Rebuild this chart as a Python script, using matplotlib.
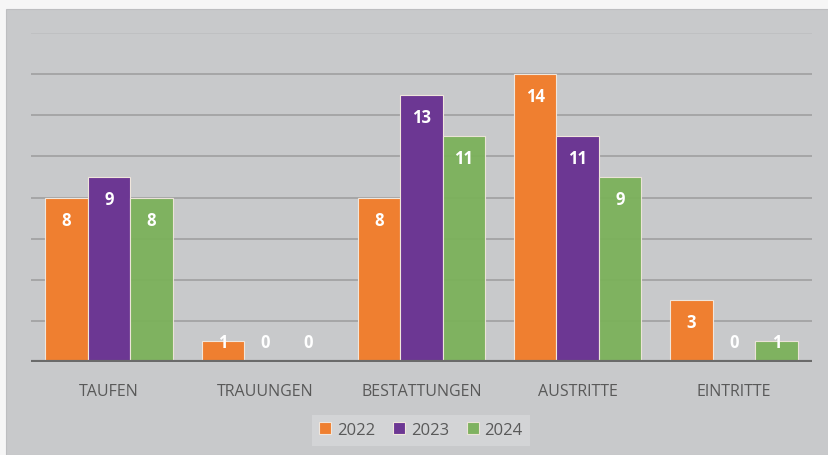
import numpy as np
import matplotlib.pyplot as plt
from matplotlib.patches import Rectangle

categories = ["TAUFEN", "TRAUUNGEN", "BESTATTUNGEN", "AUSTRITTE", "EINTRITTE"]
years = ["2022", "2023", "2024"]
values_2022 = [8, 1, 8, 14, 3]
values_2023 = [9, 0, 13, 11, 0]
values_2024 = [8, 0, 11, 9, 1]
series = [values_2022, values_2023, values_2024]
colors = ["#ef7f30", "#6c3793", "#7bb15a"]

plt.rcParams["font.family"] = ["Open Sans", "DejaVu Sans"]

fig = plt.figure(figsize=(8.29, 4.56), dpi=100)
fig.patch.set_facecolor("#f6f6f6")
# gray panel behind the chart
fig.patches.append(Rectangle((6 / 829, 0), 1, (456 - 10) / 456,
                             transform=fig.transFigure, facecolor="#c8c9cb",
                             edgecolor="#bdbec0", linewidth=0.8, zorder=-5))

ax = fig.add_axes([31 / 829, 1 - 363 / 456, (812 - 31) / 829, (363 - 34) / 456])
ax.set_facecolor("none")
ax.set_xlim(-0.5, len(categories) - 0.5)
ax.set_ylim(0, 16)

# gridlines, top one faint
grid_levels = np.arange(2, 17, 2)
for lvl in grid_levels:
    a = 0.15 if lvl == 16 else 0.6
    ax.axhline(lvl, color="#8a8a8a", alpha=a, linewidth=1.3, zorder=1)
ax.axhline(0, color="#6a6a6a", linewidth=3, zorder=4)

x = np.arange(len(categories))
width = 0.272
for i, (vals, col) in enumerate(zip(series, colors)):
    pos = x + (i - 1) * width
    alpha = 0.95 if i == 2 else 1.0
    ax.bar(pos, vals, width=width, color=col, alpha=alpha,
           edgecolor="#f0e6dc", linewidth=0.8, zorder=2, label=years[i])
    for p, v in zip(pos, vals):
        y = max(v - 1.07, 0.95)
        ax.text(p, y, str(v), ha="center", va="center", color="white",
                fontsize=12, fontweight="bold", zorder=5)

for s in ax.spines.values():
    s.set_visible(False)
ax.set_yticks([])
ax.set_xticks(x)
ax.set_xticklabels(categories, fontsize=11.5, color="#595959")
ax.tick_params(axis="x", length=0, pad=15)

leg = fig.legend(loc="center", bbox_to_anchor=(421 / 829, 1 - 431 / 456),
                 ncol=3, frameon=True, fontsize=12, handlelength=0.7,
                 handleheight=0.7, handletextpad=0.35, columnspacing=1.1,
                 borderpad=0.45, fancybox=False)
leg.get_frame().set_facecolor("#d6d7d9")
leg.get_frame().set_edgecolor("none")
for t in leg.get_texts():
    t.set_color("#595959")

fig.savefig("out.png", dpi=100)
